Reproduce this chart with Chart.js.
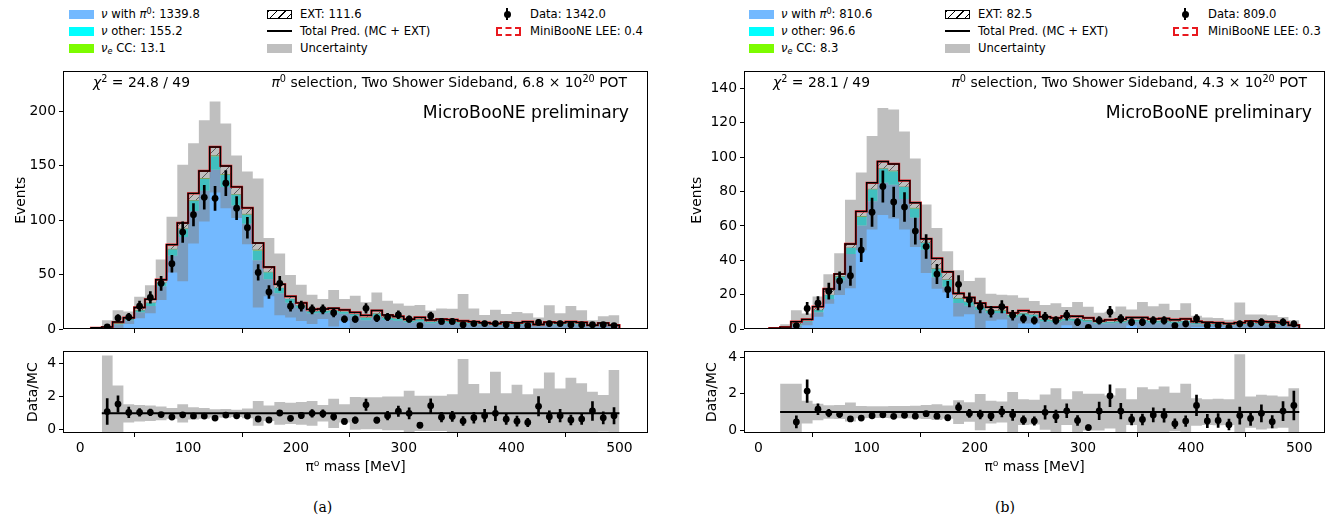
<!DOCTYPE html>
<html>
<head>
<meta charset="utf-8">
<script src="https://cdn.jsdelivr.net/npm/chart.js@4.4.1/dist/chart.umd.min.js"></script>
<style>
  body { margin: 0; width: 1340px; height: 525px; background: #fff; position: relative; overflow: hidden;
         font-family: "DejaVu Sans", sans-serif; color: #000; }
  canvas { position: absolute; }
  .txt { position: absolute; white-space: nowrap; font-size: 11.6px; line-height: 14px; }
  .note { font-size: 13.9px; line-height: 16px; }
  .big { font-size: 17.2px; line-height: 20px; }
  .cap { position: absolute; font-family: "DejaVu Serif", serif; font-size: 14px; }
  sup, sub { font-size: 0.7em; line-height: 0; position: relative; vertical-align: baseline; }
  sup { top: -0.5em; }
  sub { top: 0.3em; }
  .sw { position: absolute; width: 25px; height: 9px; box-sizing: border-box; }
</style>
</head>
<body>
<canvas id="mainA" width="660" height="285" style="left:0;top:60px"></canvas>
<canvas id="ratioA" width="660" height="140" style="left:0;top:340px"></canvas>
<canvas id="mainB" width="660" height="285" style="left:680px;top:60px"></canvas>
<canvas id="ratioB" width="660" height="140" style="left:680px;top:340px"></canvas>

<div class="txt note" style="left:93px;top:74px"><i>χ</i><sup>2</sup> = 24.8 / 49</div>
<div class="txt note" style="right:713px;top:74px"><i>π</i><sup>0</sup> selection, Two Shower Sideband, 6.8 × 10<sup>20</sup> POT</div>
<div class="txt big" style="right:711px;top:102px">MicroBooNE preliminary</div>
<div class="txt note" style="left:773px;top:74px"><i>χ</i><sup>2</sup> = 28.1 / 49</div>
<div class="txt note" style="right:33px;top:74px"><i>π</i><sup>0</sup> selection, Two Shower Sideband, 4.3 × 10<sup>20</sup> POT</div>
<div class="txt big" style="right:28px;top:102px">MicroBooNE preliminary</div>
<div class="cap" style="left:313px;top:499px">(a)</div>
<div class="cap" style="left:995px;top:499px">(b)</div>

<script>
// pi0 invariant mass, 10 MeV bins from 10 to 500 MeV
const binEdges = [10, 20, 30, 40, 50, 60, 70, 80, 90, 100, 110, 120, 130, 140, 150, 160, 170, 180, 190, 200,
  210, 220, 230, 240, 250, 260, 270, 280, 290, 300, 310, 320, 330, 340, 350, 360, 370, 380, 390, 400,
  410, 420, 430, 440, 450, 460, 470, 480, 490, 500];
const xTicks = [0, 100, 200, 300, 400, 500];
const eventTicksA = [0, 50, 100, 150, 200];
const eventTicksB = [0, 20, 40, 60, 80, 100, 120, 140];
const ratioTicks = [0, 2, 4];

// 6.8e20 POT
const pi0A = [0.6, 1.1, 4.1, 8.0, 15.3, 21.2, 39.3, 67.3, 84.6, 108.5, 127.0, 146.3, 130.5, 113.5, 96.8, 63.2,
  45.6, 32.8, 24.0, 19.2, 14.4, 14.7, 15.2, 14.1, 12.2, 8.1, 11.0, 8.3, 7.5, 5.9, 7.0, 5.3, 5.9, 5.6, 4.9,
  4.4, 3.8, 3.3, 4.0, 3.7, 4.4, 2.7, 4.1, 3.8, 4.4, 4.0, 2.3, 3.6, 2.3];
const otherA = [0.2, 0.3, 1.0, 1.1, 2.0, 2.8, 3.5, 6.0, 7.5, 9.5, 11.0, 12.5, 11.3, 10.0, 8.5, 9.0, 6.5, 4.8,
  3.5, 2.4, 1.8, 1.8, 1.9, 1.8, 1.5, 2.3, 3.1, 2.3, 2.1, 1.6, 1.9, 1.5, 1.6, 1.5, 1.3, 1.2, 1.0, 0.9, 1.1,
  1.0, 1.2, 0.8, 1.1, 1.0, 1.2, 1.1, 0.6, 1.0, 0.6];
const nueA = [0.1, 0.1, 0.3, 0.1, 0.2, 0.3, 0.2, 0.4, 0.5, 0.6, 0.7, 0.8, 0.7, 0.6, 0.5, 0.8, 0.6, 0.4, 0.3,
  0.2, 0.2, 0.2, 0.2, 0.2, 0.2, 0.3, 0.3, 0.3, 0.2, 0.2, 0.2, 0.2, 0.2, 0.2, 0.2, 0.1, 0.1, 0.1, 0.1, 0.1,
  0.1, 0.1, 0.1, 0.1, 0.1, 0.1, 0.1, 0.1, 0.1];
const extA = [0.2, 0.3, 1.0, 1.2, 2.3, 3.0, 2.3, 3.8, 4.8, 6.0, 6.5, 7.6, 7.3, 6.5, 5.5, 6.0, 4.2, 3.1, 2.2,
  2.2, 1.6, 1.7, 1.7, 1.5, 1.4, 1.8, 2.6, 1.9, 1.7, 1.3, 1.6, 1.2, 1.4, 1.3, 1.1, 1.1, 0.9, 0.7, 1.0, 0.9,
  1.0, 0.6, 1.0, 0.9, 1.0, 0.9, 0.5, 0.8, 0.5];
const leeA = [0, 0, 0, 0.01, 0.01, 0.01, 0.02, 0.02, 0.03, 0.03, 0.03, 0.03, 0.03, 0.02, 0.02, 0.02, 0.01,
  0.01, 0.01, 0.01, 0.01, 0.01, 0.01, 0.01, 0.01, 0.01, 0.01, 0.01, 0.01, 0, 0, 0, 0, 0, 0, 0, 0, 0, 0, 0,
  0, 0, 0, 0, 0, 0, 0, 0, 0];
const relUncA = [null, 3.51, 1.69, 0.55, 0.50, 0.47, 0.41, 0.33, 0.55, 0.37, 0.32, 0.25, 0.26, 0.22, 0.30,
  0.75, 0.47, 0.69, 0.65, 0.69, 0.75, 0.50, 0.88, 0.56, 0.99, 0.97, 0.97, 1.03, 1.03, 1.37, 1.07, 1.07,
  1.07, 1.16, 3.29, 1.78, 1.22, 2.53, 1.22, 1.73, 1.16, 1.50, 2.48, 1.50, 2.16, 1.82, 1.31, 1.12, 2.63];
const dataA = [null, 2, 10, 11, 21, 29, 42, 60, 89, 105, 121, 120, 134, 111, 93, 52, 34, 42, 21, 21, 18, 18,
  15, 9, 9, 19, 10, 11, 13, 9, 3, 12, 7, 7, 4, 5, 5, 5, 4, 3, 3, 6, 5, 5, 4, 4, 4, 4, 3];

// 4.3e20 POT
const pi0B = [0.3, 0.5, 2.1, 4.2, 9.8, 17.5, 28.2, 43.6, 60.3, 74.3, 85.2, 84.0, 75.7, 64.7, 46.2, 30.1,
  24.6, 15.2, 13.5, 11.0, 9.3, 9.3, 6.9, 7.9, 7.2, 4.5, 4.1, 4.8, 4.7, 4.1, 3.0, 3.3, 3.6, 4.2, 4.2, 3.7,
  3.8, 3.4, 3.7, 2.8, 2.5, 2.3, 2.0, 2.3, 2.9, 2.7, 2.6, 2.4, 1.4];
const otherB = [0.1, 0.2, 0.7, 0.6, 1.3, 2.3, 2.4, 3.7, 5.1, 7.0, 8.0, 7.9, 6.9, 5.5, 3.9, 4.9, 4.0, 2.5,
  2.2, 1.8, 1.5, 1.5, 1.1, 1.3, 1.2, 1.1, 1.0, 1.1, 1.1, 1.0, 0.7, 0.8, 0.9, 1.0, 1.0, 0.9, 0.9, 0.8, 0.9,
  0.7, 0.6, 0.6, 0.5, 0.6, 0.7, 0.6, 0.6, 0.6, 0.3];
const nueB = [0.0, 0.1, 0.2, 0.1, 0.1, 0.2, 0.2, 0.2, 0.4, 0.4, 0.4, 0.4, 0.4, 0.4, 0.3, 0.3, 0.3, 0.3, 0.3,
  0.2, 0.2, 0.2, 0.2, 0.1, 0.1, 0.1, 0.1, 0.1, 0.1, 0.1, 0.1, 0.1, 0.1, 0.1, 0.1, 0.1, 0.1, 0.1, 0.1, 0.1,
  0.1, 0.1, 0.1, 0.1, 0.1, 0.1, 0.1, 0.1, 0.0];
const extB = [0.1, 0.3, 1.3, 0.7, 1.8, 3.3, 1.2, 2.0, 2.7, 3.4, 3.9, 3.8, 3.4, 2.9, 2.1, 5.8, 4.4, 2.7, 2.3,
  2.0, 1.7, 1.7, 1.2, 1.4, 1.3, 1.4, 1.3, 1.5, 1.5, 1.3, 0.9, 1.1, 1.1, 1.4, 1.4, 1.2, 1.3, 1.1, 1.2, 0.8,
  0.7, 0.7, 0.6, 0.7, 0.9, 0.9, 0.9, 0.7, 0.5];
const leeB = [0, 0, 0, 0.01, 0.01, 0.01, 0.01, 0.02, 0.02, 0.02, 0.02, 0.02, 0.02, 0.02, 0.01, 0.01, 0.01,
  0.01, 0.01, 0.01, 0.01, 0.01, 0.01, 0.01, 0, 0, 0, 0, 0, 0, 0, 0, 0, 0, 0, 0, 0, 0, 0, 0, 0, 0, 0, 0, 0,
  0, 0, 0, 0];
const relUncB = [null, 1.55, 1.55, 0.62, 0.45, 0.37, 0.38, 0.52, 0.33, 0.32, 0.32, 0.33, 0.33, 0.35, 0.38,
  0.43, 0.36, 0.65, 0.53, 0.99, 0.62, 0.57, 1.09, 0.70, 0.67, 0.96, 1.30, 0.70, 1.13, 1.00, 1.00, 0.90,
  1.30, 0.70, 1.35, 1.25, 1.40, 1.05, 1.55, 0.75, 0.70, 0.72, 0.70, 3.15, 0.85, 0.95, 0.90, 0.85, 1.30];
const dataB = [null, null, 2, 12, 15, 22, 28, 31, 46, 68, 83, 74, 71, 57, 48, 32, 23, 26, 17, 13, 10, 13, 8,
  6, 5, 7, 5, 8, 4, 1, 5, 10, 6, 4, 4, 5, 5, 2, 3, 6, 2, 2, 1, 3, 3, 4, 2, 4, 3];

const C_PI0 = '#73b9ff';
const C_OTHER = '#00ffff';
const C_NUE = '#7cfc00';
const C_UNC = 'rgba(128, 128, 128, 0.5)';
const C_LEE = '#e8191f';

const FONT_PX = 13.9;
Chart.defaults.font.family = "'DejaVu Sans', sans-serif";
Chart.defaults.font.size = FONT_PX;
Chart.defaults.color = '#000';

const binCentres = binEdges.slice(0, -1).map((e, i) => (e + binEdges[i + 1]) / 2);
const sum = (arr) => arr.reduce((a, v) => a + (v || 0), 0);

function hatchPattern() {
  const c = document.createElement('canvas');
  c.width = 8; c.height = 8;
  const g = c.getContext('2d');
  g.fillStyle = '#fff';
  g.fillRect(0, 0, 8, 8);
  g.strokeStyle = '#222';
  g.lineWidth = 0.9;
  g.beginPath();
  g.moveTo(0, 8); g.lineTo(8, 0);
  g.moveTo(-2, 2); g.lineTo(2, -2);
  g.moveTo(6, 10); g.lineTo(10, 6);
  g.stroke();
  return g.createPattern(c, 'repeat');
}

// histogram outline: one point per left edge plus the closing right edge
function stepPoints(vals, closed) {
  const pts = [];
  const n = vals.length;
  if (closed) pts.push({ x: binEdges[0], y: 0 });
  vals.forEach((v, i) => pts.push({ x: binEdges[i], y: v }));
  pts.push({ x: binEdges[n], y: vals[n - 1] });
  if (closed) pts.push({ x: binEdges[n], y: 0 });
  return pts;
}

function stepSet(vals, extra, closed) {
  return Object.assign({
    type: 'line', data: stepPoints(vals, closed), stepped: true,
    pointRadius: 0, borderWidth: 0, fill: false
  }, extra);
}

const boxFrame = {
  id: 'boxFrame',
  afterDatasetsDraw(chart) {
    const a = chart.chartArea;
    const ctx = chart.ctx;
    ctx.save();
    ctx.strokeStyle = '#000';
    ctx.lineWidth = 1;
    ctx.strokeRect(Math.round(a.left) + 0.5, Math.round(a.top) + 0.5,
      Math.round(a.right - a.left) - 1, Math.round(a.bottom - a.top) - 1);
    ctx.restore();
  }
};

const tickGrid = { drawOnChartArea: false, drawTicks: true, tickLength: 4, tickColor: '#000', tickWidth: 1 };

function fixedTicks(values) {
  return (scale) => { scale.ticks = values.map((v) => ({ value: v })); };
}

function drawPanel(p) {
  const stack1 = p.pi0;
  const stack2 = stack1.map((v, i) => v + p.other[i]);
  const stack3 = stack2.map((v, i) => v + p.nue[i]);
  const total = stack3.map((v, i) => v + p.ext[i]);
  const withLee = total.map((v, i) => v + p.lee[i]);
  const bandLo = total.map((v, i) => (p.relUnc[i] == null ? null : v * (1 - p.relUnc[i])));
  const bandHi = total.map((v, i) => (p.relUnc[i] == null ? null : v * (1 + p.relUnc[i])));
  const ratioLo = p.relUnc.map((r) => (r == null ? null : 1 - r));
  const ratioHi = p.relUnc.map((r) => (r == null ? null : 1 + r));

  const dataPts = [], dataErr = [], ratioPts = [], ratioErr = [];
  p.data.forEach((d, i) => {
    if (d == null) return;
    const x = binCentres[i];
    const err = Math.sqrt(d);
    dataPts.push({ x, y: d });
    dataErr.push({ x, y: [d - err, d + err] });
    const r = d / total[i];
    const rErr = err / total[i];
    ratioPts.push({ x, y: r });
    ratioErr.push({ x, y: [r - rErr, r + rErr] });
  });

  const xScale = (showLabels, height) => ({
    type: 'linear', min: p.xMin, max: p.xMax, offset: false,
    afterBuildTicks: fixedTicks(xTicks),
    ticks: { display: showLabels, padding: 3, autoSkip: false, maxRotation: 0 },
    grid: tickGrid, border: { display: false },
    title: { display: showLabels, text: 'π⁰ mass [MeV]', padding: { top: 0, bottom: 4.6 } },
    afterFit: (s) => { s.height = height; }
  });

  new Chart(document.getElementById(p.mainId), {
    type: 'line',
    data: {
      datasets: [
        stepSet(stack1, { backgroundColor: C_PI0, fill: 'origin', order: 10 }),
        stepSet(stack2, { backgroundColor: C_OTHER, fill: '-1', order: 9 }),
        stepSet(stack3, { backgroundColor: C_NUE, fill: '-1', order: 8, borderColor: '#444', borderWidth: 0.6 }),
        stepSet(total, { backgroundColor: hatchPattern(), fill: '-1', order: 7 }),
        stepSet(bandLo, { order: 6 }),
        stepSet(bandHi, { backgroundColor: C_UNC, fill: '-1', order: 5 }),
        stepSet(withLee, { borderColor: C_LEE, borderWidth: 2.2, order: 4 }, true),
        stepSet(total, { borderColor: '#000', borderWidth: 1.4, order: 3 }, true),
        { type: 'bar', data: dataErr, backgroundColor: '#000', barThickness: 2, grouped: false, order: 2 },
        { type: 'line', data: dataPts, showLine: false, pointRadius: 3.4, pointBackgroundColor: '#000',
          pointBorderWidth: 0, order: 1 }
      ]
    },
    options: {
      responsive: false, animation: false, events: [],
      layout: { padding: { left: 0, right: p.padRight, top: 7, bottom: 0 } },
      plugins: { legend: { display: false }, tooltip: { enabled: false } },
      scales: {
        x: xScale(false, 16),
        y: {
          min: 0, max: p.yMax,
          afterBuildTicks: fixedTicks(p.eventTicks),
          ticks: { padding: 3, autoSkip: false },
          grid: tickGrid, border: { display: false },
          title: { display: true, text: 'Events', padding: { top: p.eventsTitlePad, bottom: 0 } },
          afterFit: (s) => { s.width = p.yAxisWidth; }
        }
      }
    },
    plugins: [boxFrame]
  });

  new Chart(document.getElementById(p.ratioId), {
    type: 'line',
    data: {
      datasets: [
        stepSet(ratioLo, { order: 6 }),
        stepSet(ratioHi, { backgroundColor: C_UNC, fill: '-1', order: 5 }),
        { type: 'line', data: [{ x: binEdges[1], y: 1 }, { x: binEdges[binEdges.length - 1], y: 1 }],
          borderColor: '#000', borderWidth: 2, pointRadius: 0, order: 3 },
        { type: 'bar', data: ratioErr, backgroundColor: '#000', barThickness: 2, grouped: false, order: 2 },
        { type: 'line', data: ratioPts, showLine: false, pointRadius: 3.4, pointBackgroundColor: '#000',
          pointBorderWidth: 0, order: 1 }
      ]
    },
    options: {
      responsive: false, animation: false, events: [],
      layout: { padding: { left: 0, right: p.padRight, top: 5, bottom: 0 } },
      plugins: { legend: { display: false }, tooltip: { enabled: false } },
      scales: {
        x: xScale(true, 47),
        y: {
          min: p.ratioMin, max: p.ratioMax,
          afterBuildTicks: fixedTicks(ratioTicks),
          ticks: { padding: 3, autoSkip: false },
          grid: tickGrid, border: { display: false },
          title: { display: true, text: 'Data/MC', padding: { top: p.ratioTitlePad, bottom: 0 } },
          afterFit: (s) => { s.width = p.yAxisWidth; }
        }
      }
    },
    plugins: [boxFrame]
  });

  addLegend(p);
}

function el(cls, style, html) {
  const d = document.createElement('div');
  if (cls) d.className = cls;
  d.style.cssText = style;
  if (html) d.innerHTML = html;
  document.body.appendChild(d);
  return d;
}

function addLegend(p) {
  const rows = [14, 31, 48];
  const L = p.legend;
  const label = (x, row, html) => el('txt', `left:${x}px;top:${row - 7}px`, html);
  const box = (x, row, css) => el('sw', `left:${x}px;top:${row - 4.5}px;${css}`);

  box(L.c1, rows[0], `background:${C_PI0}`);
  label(L.t1, rows[0], `<i>ν</i> with <i>π</i><sup>0</sup>: ${sum(p.pi0).toFixed(1)}`);
  box(L.c1, rows[1], `background:${C_OTHER}`);
  label(L.t1, rows[1], `<i>ν</i> other: ${sum(p.other).toFixed(1)}`);
  box(L.c1, rows[2], `background:${C_NUE}`);
  label(L.t1, rows[2], `<i>ν<sub>e</sub></i> CC: ${sum(p.nue).toFixed(1)}`);

  box(L.c2, rows[0], 'border:1px solid #000;background:repeating-linear-gradient(135deg,#000 0 1px,#fff 1px 6px)');
  label(L.t2, rows[0], `EXT: ${sum(p.ext).toFixed(1)}`);
  el('', `position:absolute;left:${L.c2}px;top:${rows[1] - 0.75}px;width:25px;height:1.5px;background:#000`);
  label(L.t2, rows[1], 'Total Pred. (MC + EXT)');
  box(L.c2, rows[2], 'background:#bfbfbf');
  label(L.t2, rows[2], 'Uncertainty');

  el('', `position:absolute;left:${L.m3 - 1}px;top:${rows[0] - 6}px;width:2px;height:12px;background:#000`);
  el('', `position:absolute;left:${L.m3 - 3.5}px;top:${rows[0] - 3.5}px;width:7px;height:7px;border-radius:50%;background:#000`);
  label(L.t3, rows[0], `Data: ${sum(p.data).toFixed(1)}`);
  box(L.c3, rows[1], `border:2px dashed ${C_LEE}`);
  label(L.t3, rows[1], `MiniBooNE LEE: ${sum(p.lee).toFixed(1)}`);
}

drawPanel({
  mainId: 'mainA', ratioId: 'ratioA',
  pi0: pi0A, other: otherA, nue: nueA, ext: extA, lee: leeA, relUnc: relUncA, data: dataA,
  xMin: -16, xMax: 526.5, yMax: 236.7, ratioMin: -0.19, ratioMax: 4.76,
  eventTicks: eventTicksA, yAxisWidth: 63, padRight: 12,
  eventsTitlePad: 12.6, ratioTitlePad: 24.6,
  legend: { c1: 69, t1: 101, c2: 267, t2: 300, c3: 496, m3: 507, t3: 530 }
});

drawPanel({
  mainId: 'mainB', ratioId: 'ratioB',
  pi0: pi0B, other: otherB, nue: nueB, ext: extB, lee: leeB, relUnc: relUncB, data: dataB,
  xMin: -13.4, xMax: 523.8, yMax: 150, ratioMin: -0.14, ratioMax: 4.31,
  eventTicks: eventTicksB, yAxisWidth: 64, padRight: 15,
  eventsTitlePad: 8.6, ratioTitlePad: 23.6,
  legend: { c1: 749, t1: 781, c2: 945, t2: 978, c3: 1173, m3: 1185, t3: 1208 }
});
</script>
</body>
</html>
